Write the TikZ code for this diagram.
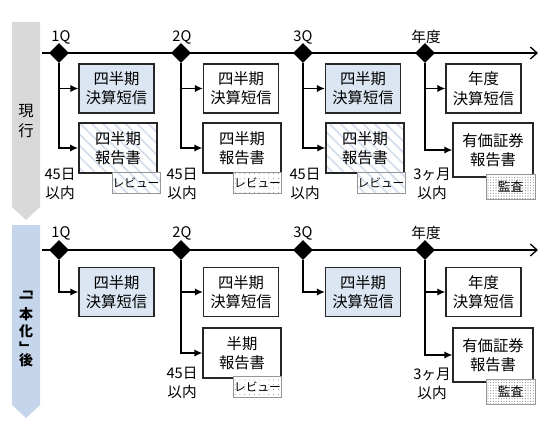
\documentclass[tikz,border=0pt]{standalone}
\usepackage{fontspec}
\setmainfont{Noto Sans CJK JP}
\usetikzlibrary{shapes.geometric, arrows.meta, patterns.meta}
\definecolor{bandgray}{RGB}{217,217,217}
\definecolor{bandblue}{RGB}{197,214,236}
\definecolor{boxblue}{RGB}{220,230,242}
\definecolor{hatchblue}{RGB}{212,222,236}
\definecolor{taggray}{RGB}{150,150,150}
\definecolor{dotgray}{RGB}{125,125,125}

\tikzset{
    evt/.style={diamond, fill=black, inner sep=0pt, minimum size=15pt},
    timeline/.style={line width=1.1pt, -{Straight Barb[length=5pt,width=9pt,line width=1pt]}},
    branch/.style={line width=1.1pt, -{Latex[length=6pt,width=5.5pt]}},
    doc/.style={draw=black!85, line width=0.9pt, fill=white, align=center, inner sep=0pt,
        font=\fontsize{11.5}{14.5}\selectfont, minimum width=56.25pt, minimum height=36.75pt},
    docwide/.style={doc, minimum width=58.5pt, minimum height=37.5pt},
    docyear/.style={doc, minimum width=60pt, minimum height=40.5pt},
    blue/.style={fill=boxblue},
    hatch/.style={preaction={fill=white}, pattern={Lines[angle=-45,distance=6pt,line width=1.3pt]}, pattern color=hatchblue},
    tag/.style={draw=taggray, line width=0.6pt, fill=white, inner sep=0pt, font=\fontsize{8.8}{10}\selectfont,
        minimum width=36pt, minimum height=15.75pt},
    tagdots/.style={tag, preaction={fill=white}, pattern={Dots[distance=3.6pt,radius=0.35pt]}, pattern color=dotgray},
    audit/.style={tag, minimum width=36.75pt, minimum height=18.75pt, font=\fontsize{9.5}{10}\selectfont,
        preaction={fill=white}, pattern={Dots[distance=2pt,radius=0.4pt]}, pattern color=dotgray},
    qlabel/.style={inner sep=0.75pt, font=\fontsize{11}{12}\selectfont},
    due/.style={inner sep=0.75pt, align=center, font=\fontsize{11}{14}\selectfont},
    bandlabel/.style={inner sep=0pt, align=center, font=\fontsize{11.5}{15}\selectfont}
}

\begin{document}
\begin{tikzpicture}[x=0.75pt,y=0.75pt,yscale=-1,xscale=1]
    \useasboundingbox (0,0) rectangle (545,428);

    % Bands
    \fill[bandgray] (12,22) -- (40,22) -- (40,207) -- (26,220) -- (12,207) -- cycle;
    \fill[bandblue] (12,225) -- (40,225) -- (40,405) -- (26,418) -- (12,405) -- cycle;
    \node[bandlabel] (now) at (26,121) {現\\行};
    \node[bandlabel, font=\bfseries\fontsize{10.5}{12.5}\selectfont] (after) at (26,329) {﹁\\[-6pt]一\\本\\化\\﹂\\[-3pt]後};

    %%%% current system
    % Timeline
    \coordinate (ta) at (42,53);
    \coordinate (tb) at (538,53);
    \draw[timeline] (ta) -- (tb);
    \node[evt] (q1) at (59,53) {};
    \node[evt] (q2) at (181,53) {};
    \node[evt] (q3) at (303,53) {};
    \node[evt] (fy) at (425,53) {};
    \node[qlabel] (lq1) at (61,37) {1Q};
    \node[qlabel] (lq2) at (182,37) {2Q};
    \node[qlabel] (lq3) at (303,37) {3Q};
    \node[qlabel] (lfy) at (426,37) {年度};

    % Documents
    \node[doc, blue] (q1a) at (116.5,88.5) {四半期\\決算短信};
    \node[docwide, hatch] (q1b) at (118,148) {四半期\\報告書};
    \node[tag, hatch] (q1r) at (136,182.5) {レビュー};
    \node[doc] (q2a) at (241,88.5) {四半期\\決算短信};
    \node[docwide] (q2b) at (242,148) {四半期\\報告書};
    \node[tagdots] (q2r) at (257.5,182.5) {レビュー};
    \node[doc, blue] (q3a) at (363,88.5) {四半期\\決算短信};
    \node[docwide, hatch] (q3b) at (365,148) {四半期\\報告書};
    \node[tag, hatch] (q3r) at (381,182.5) {レビュー};
    \node[doc] (fya) at (483.5,88.5) {年度\\決算短信};
    \node[docyear] (fyb) at (493,150) {有価証券\\報告書};
    \node[audit] (fyr) at (510.5,186.5) {監査};

    % Branches
    \draw[branch] (q1.south) |- (q1a.west);
    \draw[branch] (q1.south) |- (q1b.west);
    \draw[branch] (q2.south) |- (q2a.west);
    \draw[branch] (q2.south) |- (q2b.west);
    \draw[branch] (q3.south) |- (q3a.west);
    \draw[branch] (q3.south) |- (q3b.west);
    \draw[branch] (fy.south) |- (fya.west);
    \draw[branch] (fy.south) |- (fyb.west);

    % Deadlines
    \node[due] (dq1) at (60,184) {45日\\以内};
    \node[due] (dq2) at (182,184) {45日\\以内};
    \node[due] (dq3) at (305,184) {45日\\以内};
    \node[due] (dfy) at (432,184) {3ヶ月\\以内};

    %%%% after integration
    % Timeline
    \coordinate (ua) at (42,250);
    \coordinate (ub) at (538,250);
    \draw[timeline] (ua) -- (ub);
    \node[evt] (p1) at (59,250) {};
    \node[evt] (p2) at (181,250) {};
    \node[evt] (p3) at (303,250) {};
    \node[evt] (py) at (425,250) {};
    \node[qlabel] (lp1) at (61,233) {1Q};
    \node[qlabel] (lp2) at (182,233) {2Q};
    \node[qlabel] (lp3) at (303,233) {3Q};
    \node[qlabel] (lpy) at (426,233) {年度};

    % Documents
    \node[doc, blue] (p1a) at (116.5,292) {四半期\\決算短信};
    \node[doc] (p2a) at (241,292) {四半期\\決算短信};
    \node[docwide] (p2b) at (242,353) {半期\\報告書};
    \node[tagdots] (p2r) at (257.5,387) {レビュー};
    \node[doc, blue] (p3a) at (363,292) {四半期\\決算短信};
    \node[doc] (pya) at (483.5,292) {年度\\決算短信};
    \node[docyear] (pyb) at (493,355) {有価証券\\報告書};
    \node[audit] (pyr) at (510.5,391.5) {監査};

    % Branches
    \draw[branch] (p1.south) |- (p1a.west);
    \draw[branch] (p2.south) |- (p2a.west);
    \draw[branch] (p2.south) |- (p2b.west);
    \draw[branch] (p3.south) |- (p3a.west);
    \draw[branch] (py.south) |- (pya.west);
    \draw[branch] (py.south) |- (pyb.west);

    % Deadlines
    \node[due] (dp2) at (182,383) {45日\\以内};
    \node[due] (dpy) at (432,384) {3ヶ月\\以内};
\end{tikzpicture}
\end{document}
